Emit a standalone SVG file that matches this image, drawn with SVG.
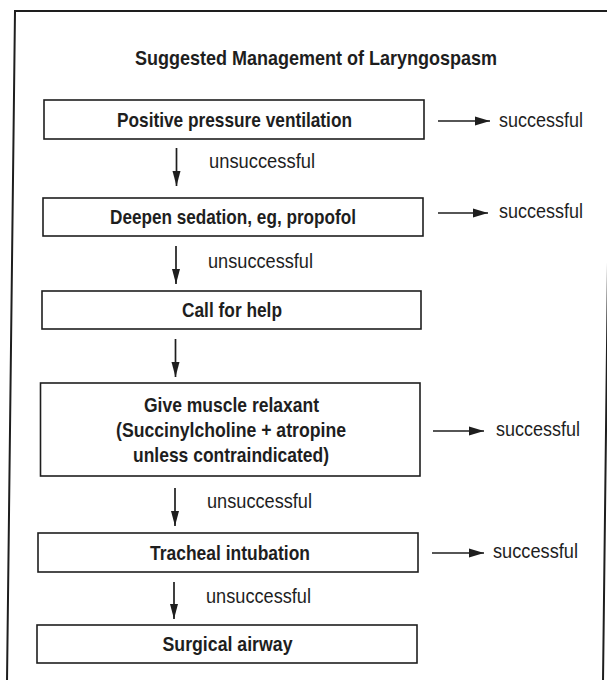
<svg xmlns="http://www.w3.org/2000/svg" width="607" height="680" viewBox="0 0 607 680">
<style>
.frame{fill:none;stroke:#1e1e1e;stroke-width:2}
.box{fill:#ffffff;stroke:#1e1e1e;stroke-width:1.6}
.bt{font-family:"Liberation Sans",Arial,sans-serif;font-weight:bold;font-size:21px;fill:#1e1e1e;text-anchor:start}
.lt{font-family:"Liberation Sans",Arial,sans-serif;font-size:20px;fill:#1e1e1e}
.con{stroke:#1e1e1e;stroke-width:1.7;fill:none}
</style>
<defs>
<marker id="ah" viewBox="0 0 15 10" refX="15" refY="5" markerWidth="15" markerHeight="10" markerUnits="userSpaceOnUse" orient="auto">
<path d="M0,0.5 L15,5 L0,9.5 Z" fill="#1e1e1e"/>
</marker>
<marker id="av" viewBox="0 0 15 10" refX="15" refY="5" markerWidth="15" markerHeight="10" markerUnits="userSpaceOnUse" orient="auto">
<path d="M0,1 L15,5 L0,9 Z" fill="#1e1e1e"/>
</marker>
</defs>
<rect width="607" height="680" fill="#ffffff"/>
<path class="frame" d="M7,682 L15,11 L611,11 L603,682"/>
<text class="bt" x="135" y="65" textLength="362" lengthAdjust="spacingAndGlyphs">Suggested Management of Laryngospasm</text>

<g id="n1">
<rect class="box" x="44" y="100" width="380" height="39"/>
<text class="bt" x="117" y="127" textLength="235" lengthAdjust="spacingAndGlyphs">Positive pressure ventilation</text>
</g>
<g id="n2">
<rect class="box" x="43" y="198" width="380" height="38"/>
<text class="bt" x="110" y="224" textLength="246" lengthAdjust="spacingAndGlyphs">Deepen sedation, eg, propofol</text>
</g>
<g id="n3">
<rect class="box" x="42" y="291" width="379" height="38"/>
<text class="bt" x="182" y="317" textLength="100" lengthAdjust="spacingAndGlyphs">Call for help</text>
</g>
<g id="n4">
<rect class="box" x="40.5" y="383" width="379.5" height="93"/>
<text class="bt" x="144" y="412" textLength="175" lengthAdjust="spacingAndGlyphs">Give muscle relaxant</text>
<text class="bt" x="116" y="437" textLength="230" lengthAdjust="spacingAndGlyphs">(Succinylcholine + atropine</text>
<text class="bt" x="133" y="462" textLength="196" lengthAdjust="spacingAndGlyphs">unless contraindicated)</text>
</g>
<g id="n5">
<rect class="box" x="38" y="533" width="380" height="39"/>
<text class="bt" x="150" y="560" textLength="160" lengthAdjust="spacingAndGlyphs">Tracheal intubation</text>
</g>
<g id="n6">
<rect class="box" x="37" y="625" width="380" height="38"/>
<text class="bt" x="162.5" y="651" textLength="130" lengthAdjust="spacingAndGlyphs">Surgical airway</text>
</g>

<g id="connectors">
<line class="con" x1="176.5" y1="148" x2="176.5" y2="186" marker-end="url(#av)"/>
<line class="con" x1="176" y1="246" x2="176" y2="284" marker-end="url(#av)"/>
<line class="con" x1="175.5" y1="339" x2="175.5" y2="377" marker-end="url(#av)"/>
<line class="con" x1="175" y1="488" x2="175" y2="526" marker-end="url(#av)"/>
<line class="con" x1="174" y1="582" x2="174" y2="619" marker-end="url(#av)"/>
<line class="con" x1="438" y1="121" x2="490" y2="121" marker-end="url(#ah)"/>
<line class="con" x1="438" y1="213" x2="488" y2="213" marker-end="url(#ah)"/>
<line class="con" x1="433" y1="431" x2="484" y2="431" marker-end="url(#ah)"/>
<line class="con" x1="432" y1="553" x2="484" y2="553" marker-end="url(#ah)"/>
<text class="lt" x="209" y="168" textLength="106" lengthAdjust="spacingAndGlyphs">unsuccessful</text>
<text class="lt" x="208" y="268" textLength="105" lengthAdjust="spacingAndGlyphs">unsuccessful</text>
<text class="lt" x="207" y="508" textLength="105" lengthAdjust="spacingAndGlyphs">unsuccessful</text>
<text class="lt" x="206" y="603" textLength="105" lengthAdjust="spacingAndGlyphs">unsuccessful</text>
<text class="lt" x="499" y="127" textLength="84" lengthAdjust="spacingAndGlyphs">successful</text>
<text class="lt" x="499" y="218" textLength="84" lengthAdjust="spacingAndGlyphs">successful</text>
<text class="lt" x="496" y="436" textLength="84" lengthAdjust="spacingAndGlyphs">successful</text>
<text class="lt" x="493" y="558" textLength="85" lengthAdjust="spacingAndGlyphs">successful</text>
</g>
</svg>
